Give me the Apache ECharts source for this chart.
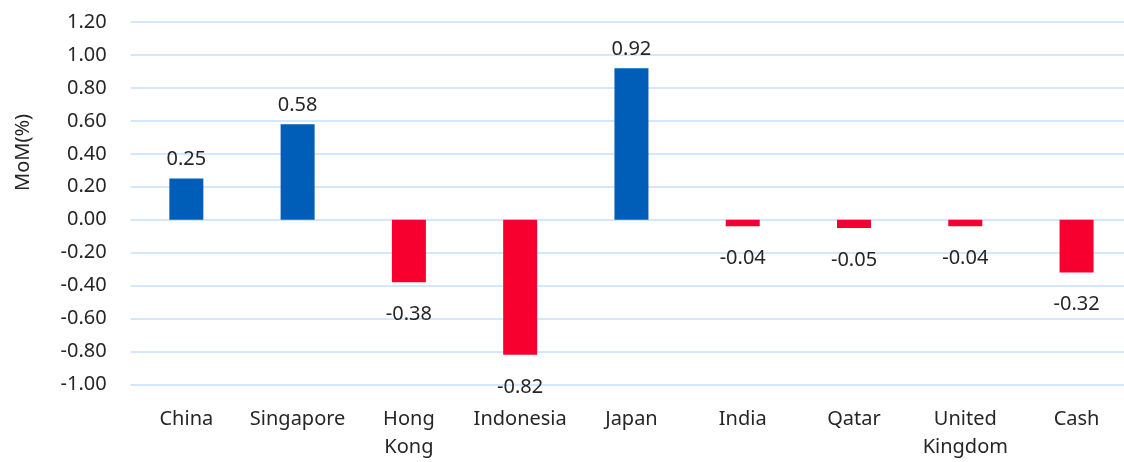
<!DOCTYPE html>
<html>
<head>
<meta charset="utf-8">
<script src="https://cdn.jsdelivr.net/npm/echarts@6/dist/echarts.min.js"></script>
<style>
  html, body { margin: 0; padding: 0; background: #fff; }
  #chart { width: 1124px; height: 462px; }
</style>
</head>
<body>
<div id="chart"></div>
<script>
// Chart data
const categories = ['China', 'Singapore', 'Hong\nKong', 'Indonesia', 'Japan', 'India', 'Qatar', 'United\nKingdom', 'Cash'];
const momValues = [0.25, 0.58, -0.38, -0.82, 0.92, -0.04, -0.05, -0.04, -0.32];
const yTicks = { min: -1.0, max: 1.2, step: 0.2 };

const POS_COLOR = '#005EB8';
const NEG_COLOR = '#F7002F';
const TEXT_COLOR = '#262626';
const FONT = 'Noto Sans';

const chart = echarts.init(document.getElementById('chart'));

const option = {
    backgroundColor: '#ffffff',
    animation: false,
    grid: {
        left: 130.7,
        width: 1001.5,
        top: 22,
        bottom: 77.5,
        outerBoundsMode: 'none',
        containLabel: false,
    },
    xAxis: {
        type: 'category',
        data: categories,
        axisLine: { show: false },
        axisTick: { show: false },
        axisLabel: {
            color: TEXT_COLOR,
            fontFamily: FONT,
            fontSize: 20,
            lineHeight: 28,
            margin: 21,
            interval: 0,
        },
    },
    yAxis: {
        type: 'value',
        min: yTicks.min,
        max: yTicks.max,
        interval: yTicks.step,
        axisLine: { show: false },
        axisTick: { show: false },
        axisLabel: {
            color: TEXT_COLOR,
            fontFamily: FONT,
            fontSize: 20,
            margin: 24,
            formatter: (v) => v.toFixed(2),
        },
        splitLine: {
            lineStyle: { color: '#D5E8FB', width: 2 },
        },
    },
    graphic: [{
        type: 'text',
        left: 13,
        top: 114,
        rotation: Math.PI / 2,
        style: {
            text: 'MoM(%)',
            fill: TEXT_COLOR,
            font: '20px "Noto Sans"',
        },
    }],
    series: [{
        type: 'bar',
        barWidth: 34,
        data: momValues.map(v => ({
            value: v,
            itemStyle: { color: v >= 0 ? POS_COLOR : NEG_COLOR },
            label: {
                position: v >= 0 ? 'top' : 'bottom',
                distance: v >= 0 ? 9 : 22,
            },
        })),
        label: {
            show: true,
            color: TEXT_COLOR,
            fontFamily: FONT,
            fontSize: 20,
            formatter: (p) => p.value.toFixed(2),
        },
    }],
};

chart.setOption(option);
</script>
</body>
</html>
